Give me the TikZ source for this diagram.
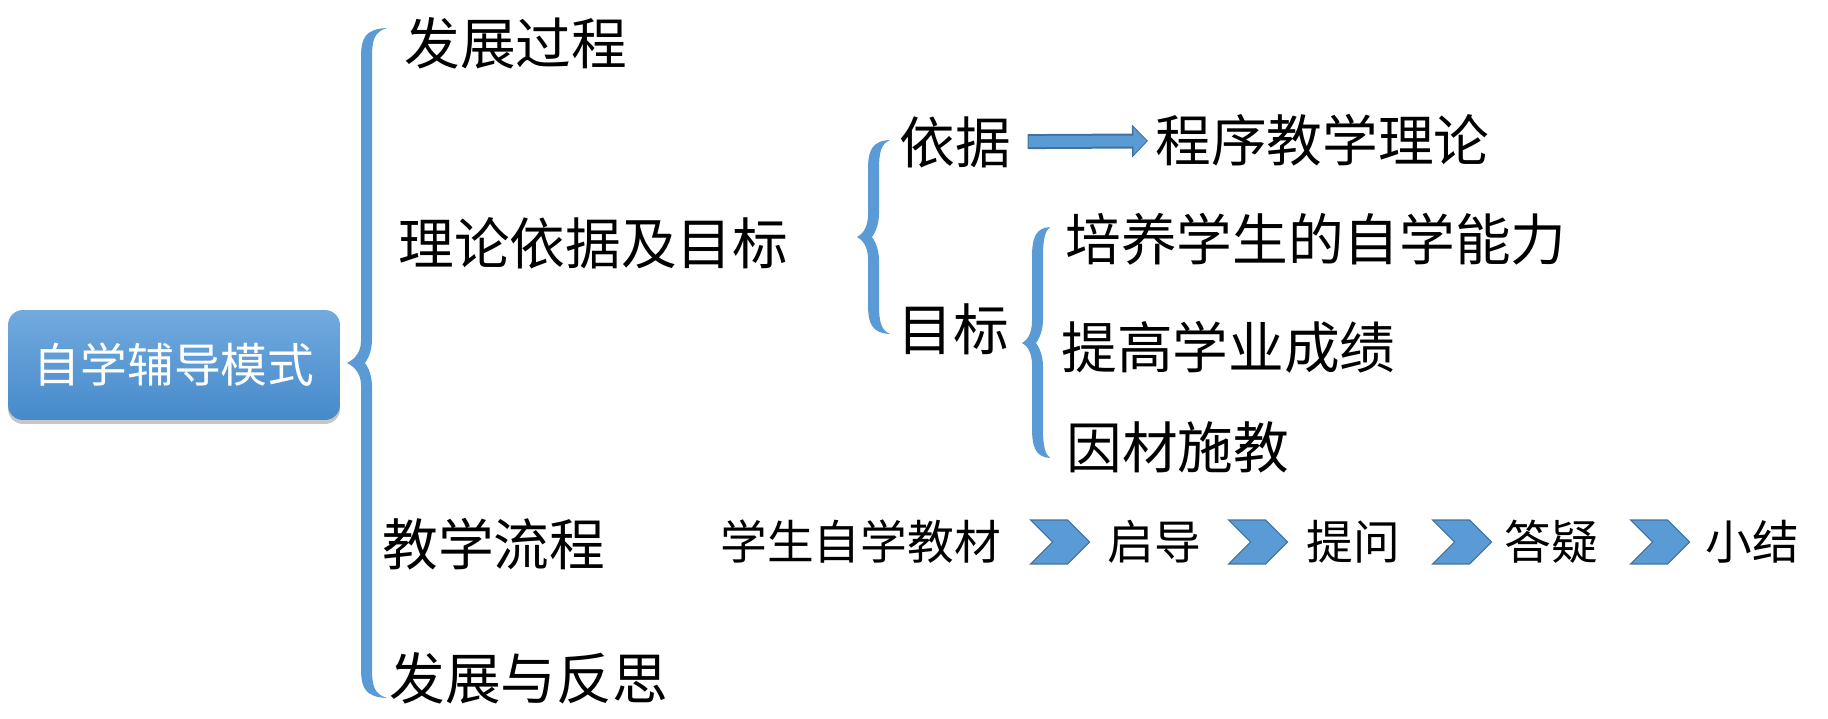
\documentclass[tikz,border=0pt]{standalone}
\usepackage{fontspec}
\setmainfont{Noto Sans CJK SC}
\usetikzlibrary{shapes.symbols,shadows,arrows.meta}

% tapered brace: tip x, tip y, top y, bottom y, stem x, end x
\newcommand{\mapbrace}[6]{%
	\fill[mapblue] (#6,#3) .. controls ({#5+4},{#3+1}) and (#5,{#3+10}) .. (#5,{#3+30}) -- (#5,{#2-22})
		.. controls (#5,{#2-8}) and ({#1+4},{#2-2}) .. (#1,#2)
		.. controls ({#1+4},{#2+2}) and (#5,{#2+8}) .. (#5,{#2+22}) -- (#5,{#4-30})
		.. controls (#5,{#4-10}) and ({#5+4},{#4-1}) .. (#6,#4)
		.. controls ({#5+13},{#4-4}) and ({#5+11},{#4-12}) .. ({#5+11},{#4-30}) -- ({#5+11},{#2+24})
		.. controls ({#5+11},{#2+10}) and ({#5+6},{#2+3}) .. ({#5+4},#2)
		.. controls ({#5+6},{#2-3}) and ({#5+11},{#2-10}) .. ({#5+11},{#2-24}) -- ({#5+11},{#3+30})
		.. controls ({#5+11},{#3+12}) and ({#5+13},{#3+4}) .. (#6,#3) -- cycle;}

\begin{document}
\begin{tikzpicture}[x=0.02cm, y=-0.02cm, every node/.style={inner sep=0pt}]
			% Define colors
			\definecolor{mapblue}{RGB}{91, 155, 213}
			\definecolor{mapedge}{RGB}{65, 113, 156}
			\definecolor{roottop}{RGB}{114, 170, 222}
			\definecolor{rootbot}{RGB}{70, 138, 203}

			% Styles
			\tikzstyle{root_box} = [rounded corners=0.3cm, top color=roottop, bottom color=rootbot, text=white, minimum width=6.64cm, minimum height=2.2cm, font=\fontsize{26.6}{30}\selectfont, drop shadow={shadow xshift=0cm, shadow yshift=-0.08cm, opacity=0.45}]
			\tikzstyle{big_label} = [anchor=west, font=\fontsize{31.7}{36}\selectfont]
			\tikzstyle{flow_label} = [anchor=west, font=\fontsize{26.6}{30}\selectfont]
			\tikzstyle{chevron_box} = [signal, signal from=west, signal to=east, fill=mapblue, draw=mapedge, line width=0.6pt, minimum width=1.18cm, minimum height=0.88cm]
			\tikzstyle{arrow_edge} = [draw=mapedge, line width=0.30cm, -{Triangle[length=0.32cm, width=0.64cm]}]
			\tikzstyle{arrow_fill} = [draw=mapblue, line width=0.22cm, -{Triangle[length=0.26cm, width=0.52cm]}]

			\useasboundingbox (0,0) rectangle (1828,719);

			% Root
			\node[root_box] (root) at (174, 365) {自学辅导模式};

			% First level
			\node[big_label] (history) at (404, 43) {发展过程};
			\node[big_label] (basis) at (398, 243) {理论依据及目标};
			\node[big_label] (flow) at (382, 544) {教学流程};
			\node[big_label] (reflect) at (389, 678) {发展与反思};

			% Second level
			\node[big_label] (yiju) at (899, 142) {依据};
			\node[big_label] (theory) at (1155, 140) {程序教学理论};
			\node[big_label] (goal) at (897, 329) {目标};
			\node[big_label] (goalone) at (1065, 239) {培养学生的自学能力};
			\node[big_label] (goaltwo) at (1061, 347) {提高学业成绩};
			\node[big_label] (goalthree) at (1066, 447) {因材施教};

			% Teaching flow
			\node[flow_label] (stepone) at (720, 542) {学生自学教材};
			\node[chevron_box] (chevone) at (1060, 542) {};
			\node[flow_label] (steptwo) at (1107, 542) {启导};
			\node[chevron_box] (chevtwo) at (1258, 542) {};
			\node[flow_label] (stepthree) at (1306, 542) {提问};
			\node[chevron_box] (chevthree) at (1462, 542) {};
			\node[flow_label] (stepfour) at (1504, 542) {答疑};
			\node[chevron_box] (chevfour) at (1660, 542) {};
			\node[flow_label] (stepfive) at (1705, 542) {小结};

			% Arrow to theory
			\draw[arrow_edge, shorten <=0.33cm, shorten >=0.14cm] (yiju) -- (theory);
			\draw[arrow_fill, shorten <=0.35cm, shorten >=0.17cm] (yiju) -- (theory);

			% Braces
			\mapbrace{347}{363}{28}{698}{361}{387}
			\mapbrace{857}{237}{140}{334}{868}{890}
			\mapbrace{1022}{343}{227}{458}{1032}{1050}

\end{tikzpicture}
\end{document}
